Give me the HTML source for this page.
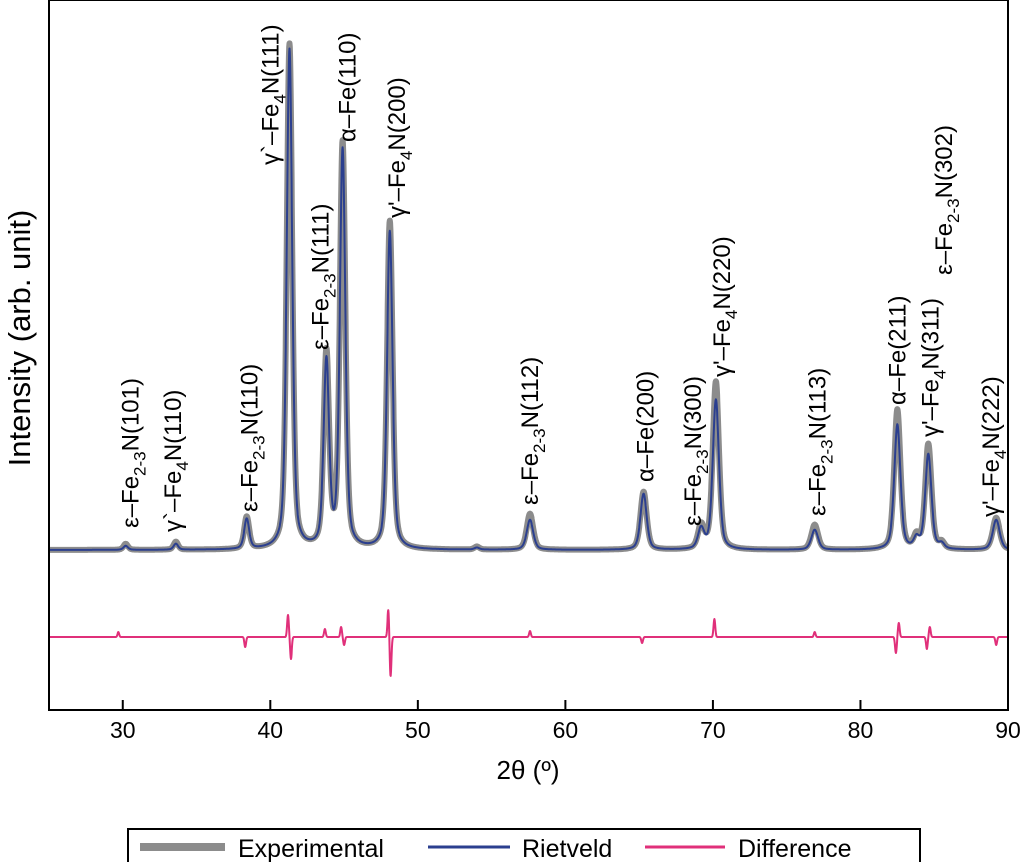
<!DOCTYPE html>
<html><head><meta charset="utf-8"><style>
body{margin:0;background:#fff;}
svg{display:block;font-family:"Liberation Sans",Arial,sans-serif;}
</style></head><body>
<svg id="chart" width="1024" height="862" viewBox="0 0 1024 862" xmlns="http://www.w3.org/2000/svg">
<g id="plot"></g>
<rect x="49" y="0" width="959" height="710" fill="none" stroke="#000" stroke-width="2"/>
<g id="axes"></g>
<text x="528" y="779" font-size="26" text-anchor="middle">2θ (º)</text>
<text transform="translate(30,338) rotate(-90)" font-size="31" text-anchor="middle">Intensity (arb. unit)</text>
<g>
<rect x="128" y="829" width="792" height="40" fill="#fff" stroke="#000" stroke-width="2"/>
<line x1="140" y1="847" x2="225" y2="847" stroke="#8c8c8c" stroke-width="8"/>
<text x="238" y="857" font-size="25">Experimental</text>
<line x1="428" y1="847" x2="510" y2="847" stroke="#2b3f8f" stroke-width="3"/>
<text x="522" y="857" font-size="25">Rietveld</text>
<line x1="645" y1="847" x2="725" y2="847" stroke="#e0307a" stroke-width="3"/>
<text x="738" y="857" font-size="25">Difference</text>
</g>
<g id="labels"></g>
</svg>
<script>
const peakPos =   [30.2, 33.6, 38.4, 41.3, 43.8, 44.9, 48.1, 54.0, 57.6, 65.3, 69.2, 70.2, 76.9, 82.5, 83.8, 84.6, 85.5, 89.2];
const expHeight = [6,    8,    32,   505,  193,  405,  328,  3,    36,   58,   23,   168,  25,   140,  12,   105,  6,    32];
const rietHeight= [4,    6,    30,   500,  185,  398,  318,  2,    30,   56,   20,   150,  20,   125,  10,   95,   5,    30];
const peakWidth = [0.18, 0.18, 0.2,  0.22, 0.22, 0.22, 0.22, 0.2,  0.26, 0.25, 0.25, 0.25, 0.27, 0.25, 0.22, 0.25, 0.22, 0.28];
const diffPos =   [29.7, 38.3, 41.2, 41.4, 43.7, 44.8, 45.0, 48.0, 48.15, 57.6, 65.2, 70.1, 76.9, 82.4, 82.6, 84.5, 84.7, 89.2];
const diffAmp =   [5,    -10,  22,   -22,  8,    10,   -8,   28,   -40,   6,    -6,   18,   5,    -16,  14,   -12,  10,   -8];
const xTicks = [30, 40, 50, 60, 70, 80, 90];
const labels = [
 ["ε–Fe","2-3","N(101)",30.2,528],["γ`–Fe","4","N(110)",33.6,532],["ε–Fe","2-3","N(110)",38.4,512],
 ["γ`–Fe","4","N(111)",41.3,165],["ε–Fe","2-3","N(111)",43.8,350],["α–Fe(110)","","",44.9,142],
 ["γ'–Fe","4","N(200)",48.1,218],["ε–Fe","2-3","N(112)",57.6,505],["α–Fe(200)","","",65.3,482],
 ["ε–Fe","2-3","N(300)",69.2,526],["γ'–Fe","4","N(220)",70.2,377],["ε–Fe","2-3","N(113)",76.9,516],
 ["α–Fe(211)","","",82.5,405],["γ'–Fe","4","N(311)",84.6,437],["ε–Fe","2-3","N(302)",85.6,275],["γ'–Fe","4","N(222)",89.2,517]];
const labelDx = [4,-4,2,-20,-7,4,6,-1,1,-9,5,2,-1,1,0,-6];
const xs = v => 49 + (v - 25) * (959 / 65);
const base = 550, diffBase = 637;
const NS = "http://www.w3.org/2000/svg";
function prof(x, hs){let s=0;for(let i=0;i<peakPos.length;i++){const d=(x-peakPos[i])/peakWidth[i];s+=hs[i]*(0.45/(1+d*d)+0.55*Math.exp(-0.693*d*d));}return s;}
function diffProf(x){let s=0;for(let i=0;i<diffPos.length;i++){const d=(x-diffPos[i])/0.08;s+=diffAmp[i]*Math.exp(-d*d);}return s;}
const plot=document.getElementById('plot');
function path(fn,color,w,name){let d="";for(let x=25;x<=90;x+=0.02){d+=(d?"L":"M")+xs(x).toFixed(1)+","+fn(x).toFixed(1);}
 const p=document.createElementNS(NS,'path');p.setAttribute('d',d);p.setAttribute('fill','none');p.setAttribute('stroke',color);p.setAttribute('stroke-width',w);p.setAttribute('stroke-linejoin','round');
 
 
 plot.appendChild(p);}
path(x=>base-prof(x,expHeight),"#8c8c8c",6,"experimental-series");
path(x=>base-prof(x,rietHeight),"#2b3f8f",2,"rietveld-series");
path(x=>diffBase-diffProf(x),"#e0307a",2,"difference-series");
const axes=document.getElementById('axes');
xTicks.forEach(t=>{const l=document.createElementNS(NS,'line');l.setAttribute('x1',xs(t));l.setAttribute('x2',xs(t));l.setAttribute('y1',710);l.setAttribute('y2',700);l.setAttribute('stroke','#000');l.setAttribute('stroke-width',2);
 
 
 axes.appendChild(l);
 const tx=document.createElementNS(NS,'text');tx.setAttribute('x',xs(t));tx.setAttribute('y',738);tx.setAttribute('font-size',23);tx.setAttribute('text-anchor','middle');tx.textContent=t;
 
 
 axes.appendChild(tx);});
const lg=document.getElementById('labels');
labels.forEach((L,i)=>{const x=xs(L[3])+labelDx[i]+9;const t=document.createElementNS(NS,'text');t.setAttribute('transform',`translate(${x.toFixed(1)},${L[4]}) rotate(-90)`);t.setAttribute('font-size',24);
 
 
 const a=document.createElementNS(NS,'tspan');a.textContent=L[0];t.appendChild(a);
 if(L[1]){const b=document.createElementNS(NS,'tspan');b.setAttribute('font-size',17);b.setAttribute('dy',7);b.textContent=L[1];t.appendChild(b);
 const c=document.createElementNS(NS,'tspan');c.setAttribute('dy',-7);c.textContent=L[2];t.appendChild(c);}
 lg.appendChild(t);});
</script>
</body></html>
